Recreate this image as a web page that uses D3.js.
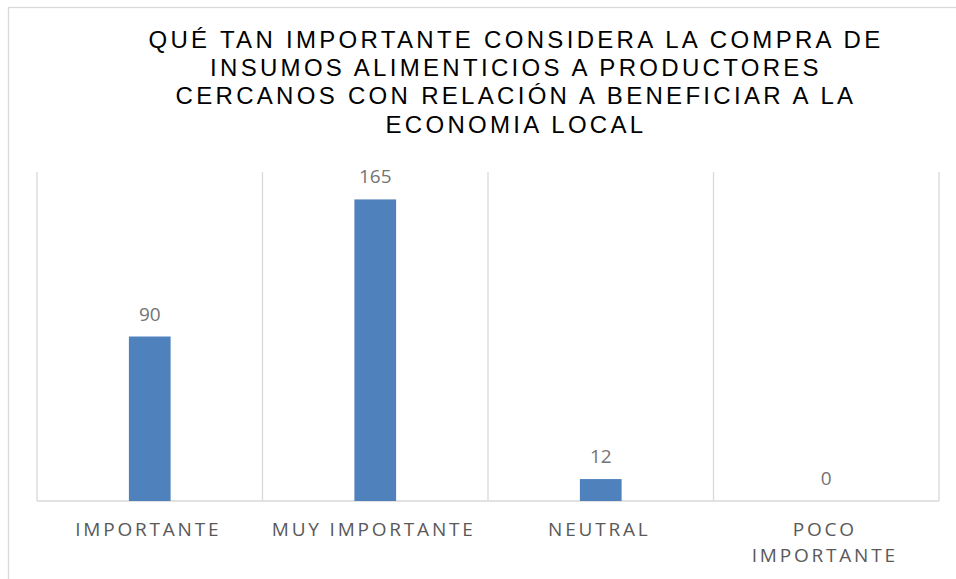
<!DOCTYPE html>
<html>
<head>
<meta charset="utf-8">
<script src="https://cdn.jsdelivr.net/npm/d3@7"></script>
<style>
  body { margin: 0; background: #ffffff; }
  svg { display: block; }
</style>
</head>
<body>
<svg id="chart"></svg>
<script>
// chart data
const titleLines = [
    "QUÉ TAN IMPORTANTE CONSIDERA LA COMPRA DE",
    "INSUMOS ALIMENTICIOS A PRODUCTORES",
    "CERCANOS CON RELACIÓN A BENEFICIAR A LA",
    "ECONOMIA LOCAL"
];
const categories = ["IMPORTANTE", "MUY IMPORTANTE", "NEUTRAL", "POCO IMPORTANTE"];
// tick labels as they wrap in the picture
const tickLines = [["IMPORTANTE"], ["MUY IMPORTANTE"], ["NEUTRAL"], ["POCO", "IMPORTANTE"]];
const values = [90, 165, 12, 0];
const yMax = 180;

const width = 956;
const height = 579;
const plot = { left: 37, right: 939, top: 172, bottom: 501 };

const svg = d3.select('#chart').attr('width', width).attr('height', height);

// outer chart border (runs off the picture on the right and bottom)
svg.append('rect')
    .attr('x', 8.5)
    .attr('y', 7.5)
    .attr('width', 1000)
    .attr('height', 1000)
    .attr('fill', '#ffffff')
    .attr('stroke', '#d9d9d9')
    .attr('stroke-width', 1.3);

// title
const title = svg.append('text')
    .attr('text-anchor', 'middle')
    .attr('font-family', '"Liberation Sans", Arial, sans-serif')
    .attr('font-size', '24px')
    .attr('letter-spacing', '3.3px')
    .attr('fill', '#000000');

titleLines.forEach((line, i) => {
    title.append('tspan')
        .attr('x', 516)
        .attr('y', 48 + i * 28.2)
        .text(line);
});

const x = d3.scaleBand()
    .domain(categories)
    .range([plot.left, plot.right])
    .padding(0);

const y = d3.scaleLinear()
    .domain([0, yMax])
    .range([plot.bottom, plot.top]);

// vertical category separators
const sepX = categories.map(c => x(c)).concat([plot.right]);
svg.selectAll('.sep')
    .data(sepX)
    .enter()
    .append('line')
    .attr('class', 'sep')
    .attr('x1', d => d)
    .attr('x2', d => d)
    .attr('y1', y(yMax))
    .attr('y2', y(0))
    .attr('stroke', '#d9d9d9')
    .attr('stroke-width', 1.3);

// baseline
svg.append('line')
    .attr('x1', plot.left)
    .attr('x2', plot.right)
    .attr('y1', y(0))
    .attr('y2', y(0))
    .attr('stroke', '#d9d9d9')
    .attr('stroke-width', 1.3);

// bars
const barW = x.bandwidth() * 0.185;
const data = categories.map((c, i) => ({ cat: c, value: values[i] }));

svg.selectAll('.bar')
    .data(data)
    .enter()
    .append('rect')
    .attr('class', 'bar')
    .attr('x', d => x(d.cat) + (x.bandwidth() - barW) / 2)
    .attr('y', d => y(d.value))
    .attr('width', barW)
    .attr('height', d => y(0) - y(d.value))
    .attr('fill', '#4f81bd');

// value labels
svg.selectAll('.val')
    .data(data)
    .enter()
    .append('text')
    .attr('class', 'val')
    .attr('x', d => x(d.cat) + x.bandwidth() / 2)
    .attr('y', d => y(d.value) - 16)
    .attr('text-anchor', 'middle')
    .attr('font-family', '"Open Sans", "Noto Sans", sans-serif')
    .attr('font-size', '19px')
    .attr('fill', '#737373')
    .text(d => d.value);

// category axis
const axis = svg.append('g')
    .attr('transform', `translate(0, ${y(0)})`)
    .call(d3.axisBottom(x).tickSize(0).tickPadding(0));

axis.select('.domain').remove();

axis.selectAll('text')
    .attr('font-family', '"Open Sans", "Noto Sans", sans-serif')
    .attr('font-size', '19px')
    .attr('letter-spacing', '2.8px')
    .attr('fill', '#595959')
    .attr('dy', null)
    .each(function(d, i) {
        const t = d3.select(this);
        t.text(null);
        tickLines[i].forEach((ln, j) => {
            t.append('tspan')
                .attr('x', -1.5)
                .attr('y', 35 + j * 26)
                .text(ln);
        });
    });
</script>
</body>
</html>
